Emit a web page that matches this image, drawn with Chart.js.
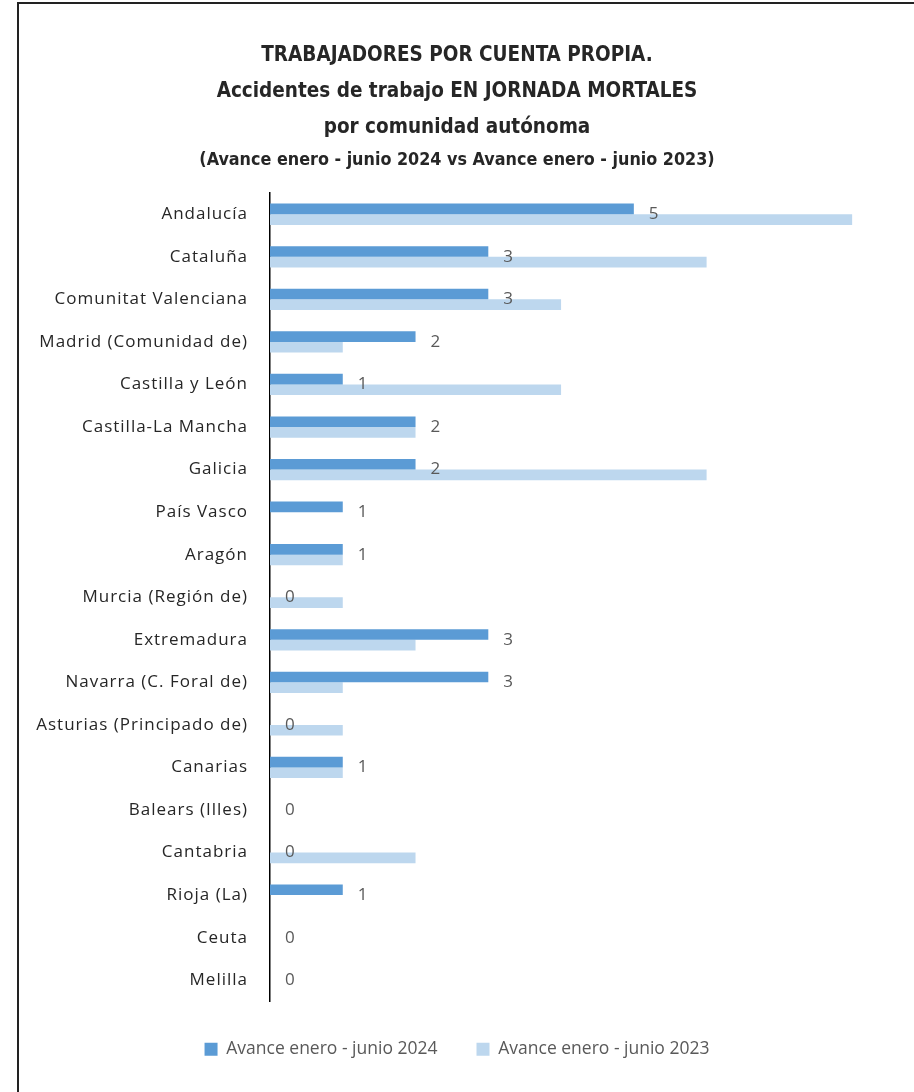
<!DOCTYPE html>
<html>
<head>
<meta charset="utf-8">
<script src="https://cdn.jsdelivr.net/npm/chart.js@4"></script>
<style>
    body { margin: 0; background: #fff; }
    #wrap { position: relative; width: 914px; height: 1092px; }
    #frame { position: absolute; left: 17px; top: 2px; right: -10px; bottom: -10px; border-left: 2px solid #222; border-top: 2px solid #222; }
    #myChart { position: absolute; left: 0; top: 0; }
</style>
</head>
<body>
<div id="wrap">
    <div id="frame"></div>
    <canvas id="myChart" width="914" height="1092"></canvas>
</div>
<script>
const regiones = ['Andalucía', 'Cataluña', 'Comunitat Valenciana', 'Madrid (Comunidad de)', 'Castilla y León',
    'Castilla-La Mancha', 'Galicia', 'País Vasco', 'Aragón', 'Murcia (Región de)', 'Extremadura',
    'Navarra (C. Foral de)', 'Asturias (Principado de)', 'Canarias', 'Balears (Illes)', 'Cantabria',
    'Rioja (La)', 'Ceuta', 'Melilla'];
const avance2024 = [5, 3, 3, 2, 1, 2, 2, 1, 1, 0, 3, 3, 0, 1, 0, 0, 1, 0, 0];
const avance2023 = [8, 6, 4, 1, 4, 2, 6, 0, 1, 1, 2, 1, 1, 1, 0, 2, 0, 0, 0];
const tituloLineas = ['TRABAJADORES POR CUENTA PROPIA.', 'Accidentes de trabajo EN JORNADA MORTALES', 'por comunidad autónoma'];
const subtitulo = '(Avance enero - junio 2024 vs Avance enero - junio 2023)';
const leyenda = ['Avance enero - junio 2024', 'Avance enero - junio 2023'];

const fuenteTitulo = "'Liberation Sans Narrow', 'DejaVu Sans Condensed', sans-serif";
const fuente = "'Open Sans', sans-serif";

// etiquetas de datos solo para la serie 2024; despues, espaciado para las etiquetas del eje (ticks z:1)
const etiquetas = {
    id: 'etiquetas',
    afterDatasetsDraw(chart) {
        const ctx = chart.ctx;
        const meta = chart.getDatasetMeta(0);
        const yScale = chart.scales.y;
        ctx.save();
        ctx.font = "17px " + fuente;
        ctx.fillStyle = '#595959';
        ctx.textAlign = 'left';
        ctx.textBaseline = 'middle';
        meta.data.forEach(function (bar, i) {
            ctx.fillText(String(avance2024[i]), bar.x + 15, yScale.getPixelForValue(i));
        });
        ctx.restore();
        ctx.letterSpacing = '1px';
    },
    afterDraw(chart) {
        chart.ctx.letterSpacing = '0px';
    }
};

const ctx = document.getElementById('myChart');
new Chart(ctx, {
    type: 'bar',
    data: {
        labels: regiones,
        datasets: [{
            label: leyenda[0],
            data: avance2024,
            backgroundColor: '#5B9BD5',
            categoryPercentage: 0.5,
            barPercentage: 1
        }, {
            label: leyenda[1],
            data: avance2023,
            backgroundColor: '#BDD7EE',
            categoryPercentage: 0.5,
            barPercentage: 1
        }]
    },
    options: {
        indexAxis: 'y',
        responsive: false,
        animation: false,
        layout: { padding: { left: 0, right: 0, top: 0, bottom: 24 } },
        plugins: {
            title: {
                display: true,
                text: tituloLineas,
                color: '#262626',
                font: { family: fuenteTitulo, size: 20.5, weight: 'bold', lineHeight: 1.75 },
                padding: { top: 38, bottom: 0 }
            },
            subtitle: {
                display: true,
                text: subtitulo,
                color: '#262626',
                font: { family: fuenteTitulo, size: 17.8, weight: 'bold', lineHeight: 1.2 },
                padding: { top: 4, bottom: 22 }
            },
            legend: {
                position: 'bottom',
                labels: {
                    color: '#595959',
                    boxWidth: 13,
                    boxHeight: 13,
                    padding: 39,
                    font: { family: fuente, size: 17.5 }
                }
            },
            tooltip: { enabled: false }
        },
        scales: {
            x: {
                min: 0,
                max: 8.85,
                ticks: { display: false },
                grid: { display: false },
                border: { display: false },
                afterFit: function (scale) { scale.height = 0; }
            },
            y: {
                grid: { display: false, drawTicks: false },
                border: { display: true, color: '#000', width: 1.5 },
                ticks: {
                    color: '#262626',
                    padding: 22,
                    z: 1,
                    font: { family: fuente, size: 17 }
                },
                afterFit: function (scale) { scale.width = 270; }
            }
        }
    },
    plugins: [etiquetas]
});
</script>
</body>
</html>
